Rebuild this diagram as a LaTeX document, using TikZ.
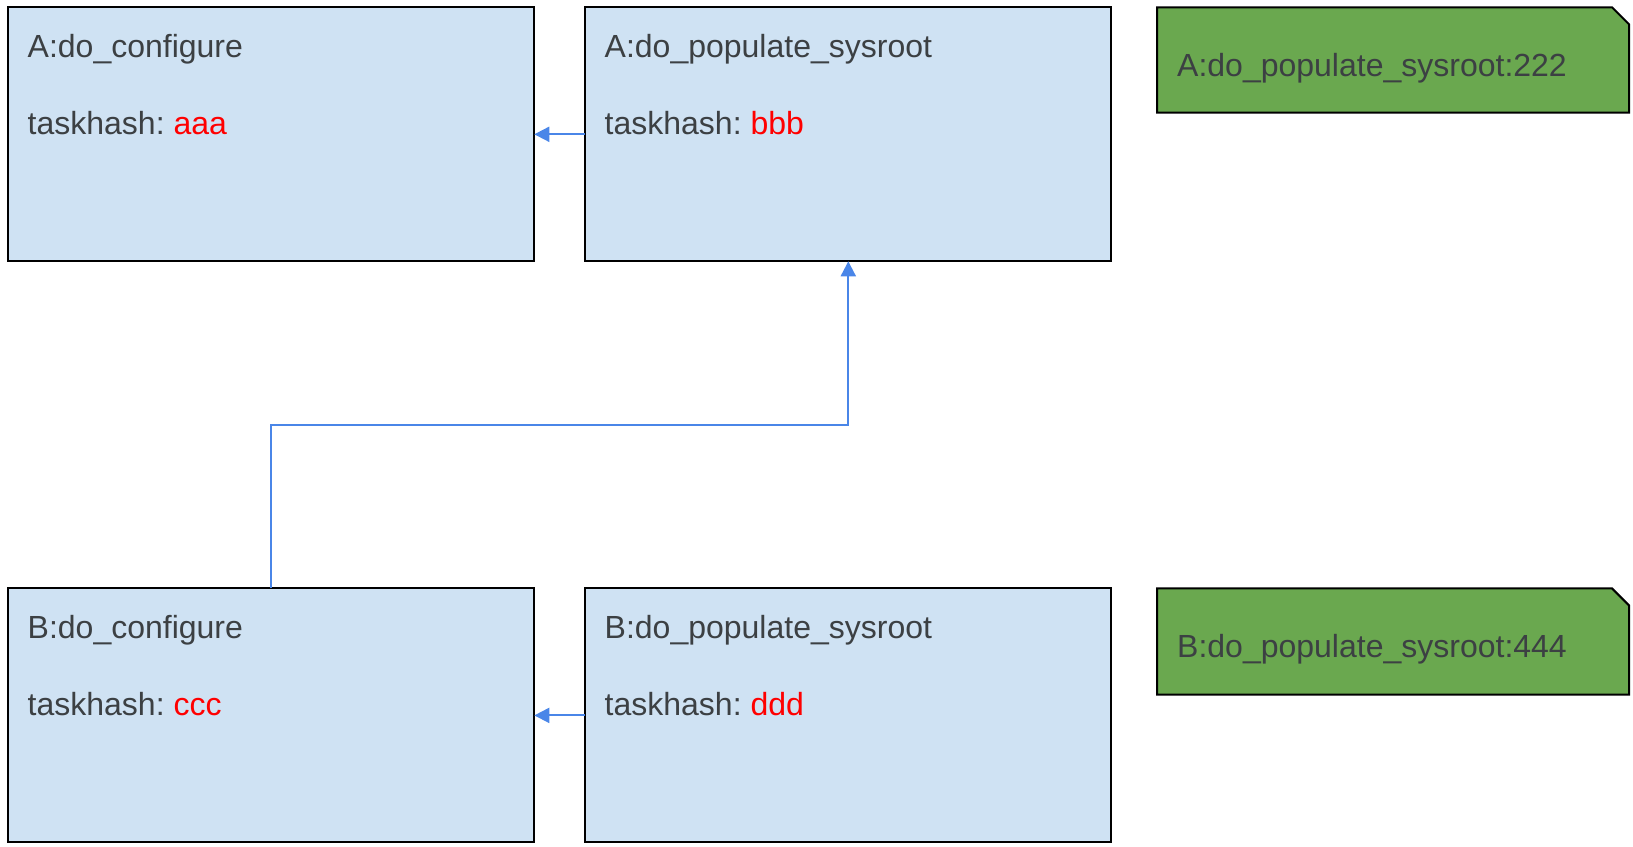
\documentclass[tikz,border=0pt]{standalone}
\usepackage{fontspec}
\setmainfont{Liberation Sans}
\usetikzlibrary{arrows.meta}
\definecolor{boxfill}{HTML}{CFE2F3}
\definecolor{notefill}{HTML}{6AA84F}
\definecolor{linkblue}{HTML}{4A86E8}
\definecolor{txt}{HTML}{3C4043}
\definecolor{hash}{HTML}{FF0000}
\frenchspacing
\begin{document}
\begin{tikzpicture}[x=1pt,y=-1pt,
  task/.style={draw=black, line width=2pt, fill=boxfill, minimum width=526pt, minimum height=254pt, inner sep=0pt, outer sep=0pt, anchor=north west},
  lbl/.style={anchor=base west, inner sep=0pt, text=txt, font=\fontsize{32}{38}\selectfont\frenchspacing},
  link/.style={draw=linkblue, line width=2pt, -{Triangle[length=15pt,width=15pt]}},
  note/.style={draw=black, line width=2pt, fill=notefill}]
\useasboundingbox (0,0) rectangle (1633,846);

% task boxes
\node[task] (Aconf) at (8.3,7.3) {};
\node[task] (Apop) at (585.3,7.3) {};
\node[task] (Bconf) at (8.3,588.4) {};
\node[task] (Bpop) at (585.3,588.4) {};

% labels
\node[lbl] (tAconf) at (27.5,57.3) {A:do\_configure};
\node[lbl] (hAconf) at (27.5,134) {taskhash: \textcolor{hash}{aaa}};
\node[lbl] (tApop) at (604.5,57.3) {A:do\_populate\_sysroot};
\node[lbl] (hApop) at (604.5,134) {taskhash: \textcolor{hash}{bbb}};
\node[lbl] (tBconf) at (27.5,638.4) {B:do\_configure};
\node[lbl] (hBconf) at (27.5,715.4) {taskhash: \textcolor{hash}{ccc}};
\node[lbl] (tBpop) at (604.5,638.4) {B:do\_populate\_sysroot};
\node[lbl] (hBpop) at (604.5,715.4) {taskhash: \textcolor{hash}{ddd}};

% notes
\draw[note] (1157,7.3) -- (1612,7.3) -- (1629,24.3) -- (1629,112.5) -- (1157,112.5) -- cycle;
\node[lbl] (nA) at (1177,76.5) {A:do\_populate\_sysroot:222};
\draw[note] (1157,588.4) -- (1612,588.4) -- (1629,605.4) -- (1629,694.6) -- (1157,694.6) -- cycle;
\node[lbl] (nB) at (1177,657.6) {B:do\_populate\_sysroot:444};

% connectors
\draw[link] (Apop.west) -- (Aconf.east);
\draw[link] (Bpop.west) -- (Bconf.east);
\coordinate (bend) at (560,425);
\draw[link] (Bconf.north) |- (bend) -| (Apop.south);
\end{tikzpicture}
\end{document}
